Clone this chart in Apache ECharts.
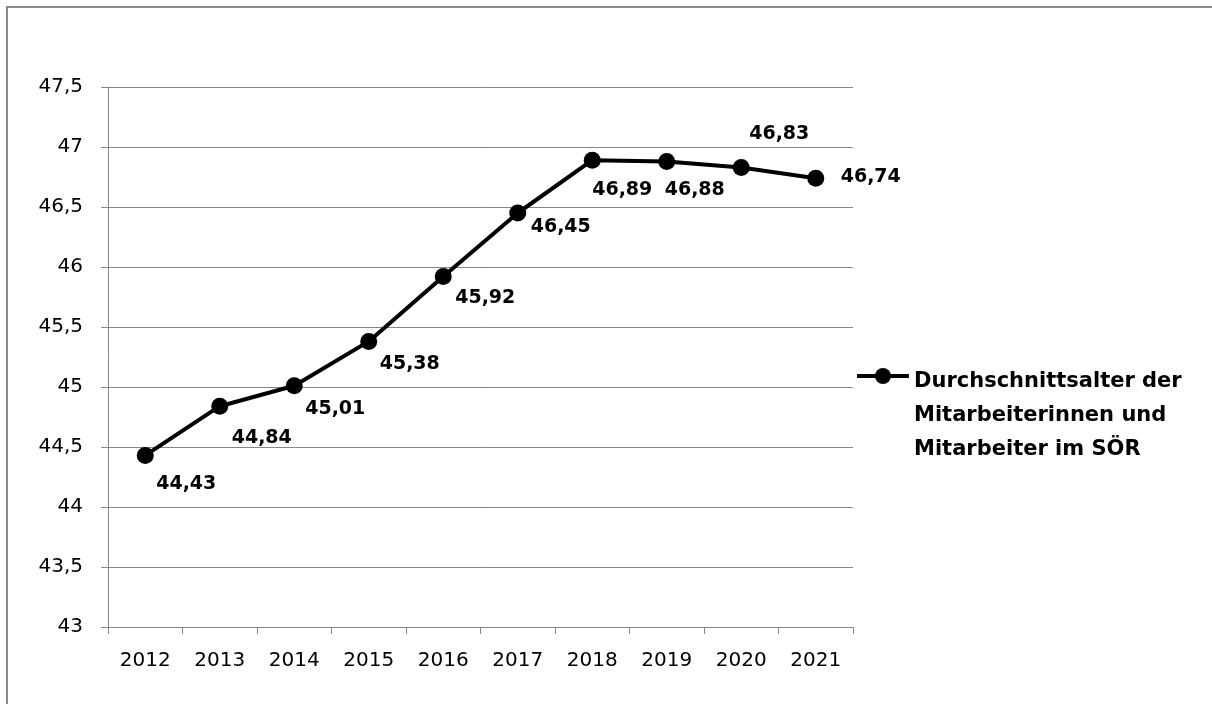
<!DOCTYPE html>
<html>
<head>
<meta charset="utf-8">
<script src="https://cdn.jsdelivr.net/npm/echarts@6/dist/echarts.min.js"></script>
<style>
  html, body { margin: 0; padding: 0; background: #fff; overflow: hidden; }
  #frame { position: absolute; left: 6px; top: 6px; width: 1400px; height: 900px;
           border-left: 2px solid #8a8a8a; border-top: 2px solid #8a8a8a; }
  #chart { position: absolute; left: 0; top: 0; width: 1212px; height: 704px; }
</style>
</head>
<body>
<div id="frame"></div>
<div id="chart"></div>
<script>
// Years on the category axis
const years = ['2012', '2013', '2014', '2015', '2016', '2017', '2018', '2019', '2020', '2021'];
// Average age of staff per year
const averageAge = [44.43, 44.84, 45.01, 45.38, 45.92, 46.45, 46.89, 46.88, 46.83, 46.74];
// Where each value label sits relative to its point
const labelOffsets = [[41, 29], [42, 32], [41, 23], [41, 23], [42, 21], [43, 14], [30, 30], [28, 29], [38, -33], [55, -1]];
const seriesName = 'Durchschnittsalter der Mitarbeiterinnen und Mitarbeiter im SÖR';
const legendLines = ['Durchschnittsalter der', 'Mitarbeiterinnen und', 'Mitarbeiter im SÖR'];

const fmt = v => String(v).replace('.', ',');
const gray = '#868686';

const chart = echarts.init(document.getElementById('chart'), null, { renderer: 'canvas' });
chart.setOption({
  animation: false,
  grid: { left: 108, right: 359, top: 87, bottom: 77 },
  xAxis: {
    type: 'category',
    data: years,
    boundaryGap: true,
    axisLine: { lineStyle: { color: gray, width: 1 } },
    axisTick: { show: true, length: 7, lineStyle: { color: gray } },
    axisLabel: { color: '#000', fontFamily: 'DejaVu Sans', fontSize: 20, margin: 24 },
    splitLine: { show: false }
  },
  yAxis: {
    type: 'value',
    min: 43, max: 47.5, interval: 0.5,
    axisLine: { show: true, lineStyle: { color: gray, width: 1 } },
    axisTick: { show: true, length: 7, lineStyle: { color: gray } },
    axisLabel: { color: '#000', fontFamily: 'DejaVu Sans', fontSize: 20, margin: 25, formatter: fmt },
    splitLine: { show: true, lineStyle: { color: gray, width: 1 } }
  },
  legend: {
    left: 855, top: 285, padding: 0,
    itemWidth: 52, itemHeight: 20, itemGap: 0,
    lineStyle: { width: 4, color: '#000' },
    itemStyle: { color: '#000' },
    // two spacer lines on top keep the first text line level with the marker
    formatter: () => '{e| }\n{e| }\n' + legendLines.join('\n'),
    textStyle: {
      color: '#000', fontFamily: 'DejaVu Sans', fontWeight: 'bold', fontSize: 21,
      lineHeight: 34,
      rich: { e: { lineHeight: 40, fontSize: 21 } }
    },
    data: [seriesName]
  },
  series: [{
    name: seriesName,
    type: 'line',
    data: averageAge.map((v, i) => ({
      value: v,
      label: { offset: labelOffsets[i] }
    })),
    symbol: 'circle',
    symbolSize: 17,
    itemStyle: { color: '#000' },
    lineStyle: { color: '#000', width: 4 },
    label: {
      show: true,
      position: 'inside',
      color: '#000',
      fontFamily: 'DejaVu Sans',
      fontWeight: 'bold',
      fontSize: 19,
      formatter: p => fmt(p.value)
    }
  }]
});
</script>
</body>
</html>
